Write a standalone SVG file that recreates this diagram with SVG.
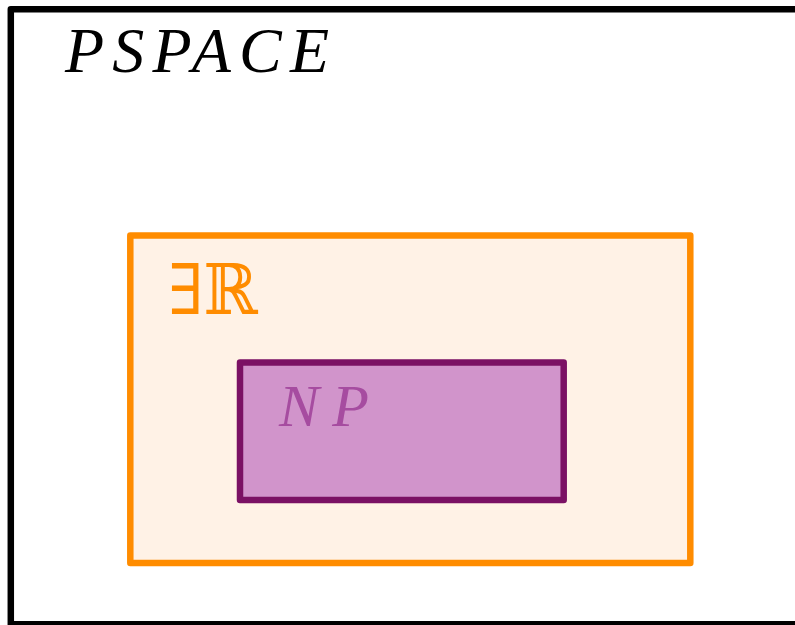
<svg xmlns="http://www.w3.org/2000/svg" width="795" height="625" viewBox="0 0 795 625">
<style>
.box{stroke-width:6.5;stroke-linejoin:round}
.math{font-family:"Liberation Serif","Times New Roman",serif;font-style:italic}
</style>
<rect width="795" height="625" fill="#ffffff"/>
<g id="pspace">
<rect class="box" x="10.8" y="9.3" width="800" height="615" fill="#ffffff" stroke="#000000"/>
<text class="math" x="65" y="72" font-size="64" textLength="264" lengthAdjust="spacing" fill="#000000">PSPACE</text>
</g>
<g id="er">
<rect class="box" x="130.3" y="235.5" width="560" height="327.5" fill="#FFF2E6" stroke="#FF8C00"/>
<text x="168" y="314" font-family="DejaVu Serif, DejaVu Sans, serif" font-size="70" textLength="90" lengthAdjust="spacingAndGlyphs" fill="#FF8C00">∃ℝ</text>
</g>
<g id="np">
<rect class="box" x="240" y="362.5" width="323.7" height="137.5" fill="#D194CB" stroke="#7B1164"/>
<text class="math" x="279" y="426" font-size="60" textLength="90" lengthAdjust="spacing" fill="#A64CA0">NP</text>
</g>
<g id="connectors"/>
</svg>
